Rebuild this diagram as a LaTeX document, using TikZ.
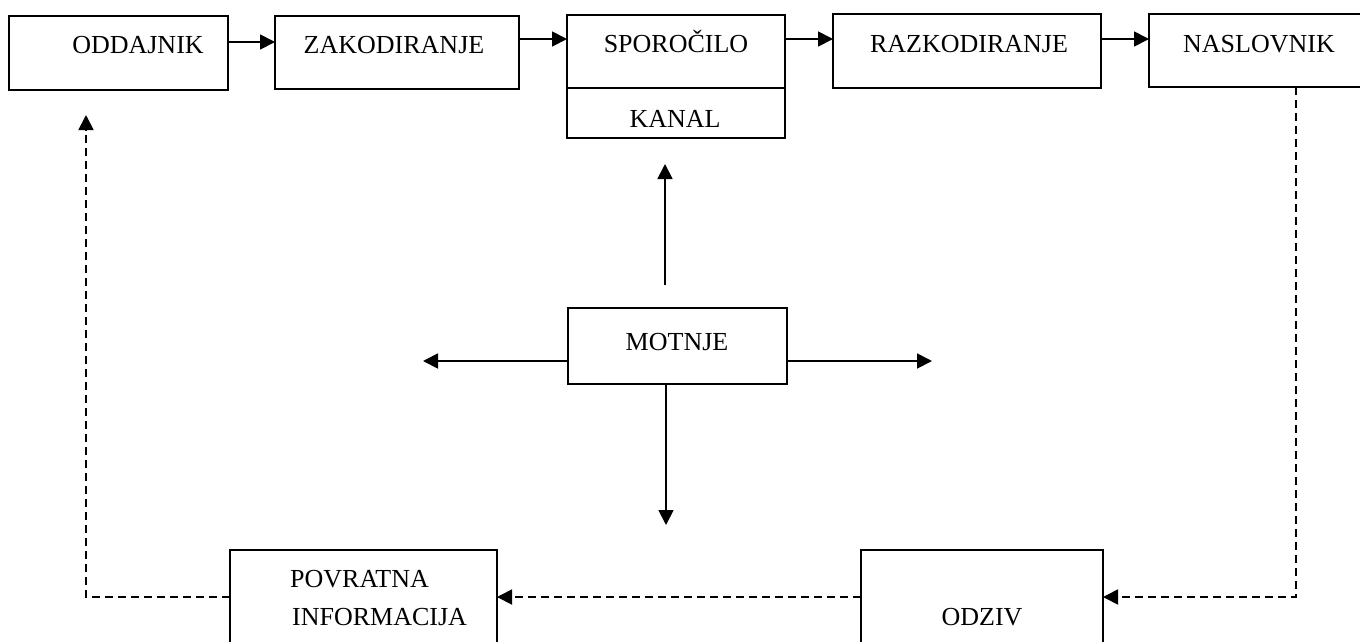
\documentclass[tikz,border=0pt]{standalone}
\usepackage{fontspec}
\setmainfont{Liberation Serif}
\usetikzlibrary{arrows.meta}
\begin{document}
\begin{tikzpicture}[x=1pt,y=-1pt,
  box/.style={draw,line width=1.8pt,inner sep=0pt,outer sep=0pt},
  lbl/.style={inner sep=0pt,anchor=base,font=\fontsize{26}{30}\selectfont},
  arr/.style={line width=1.8pt,-{Triangle[length=15pt,width=15pt]}},
  darr/.style={line width=1.8pt,dash pattern=on 8pt off 5pt,-{Triangle[length=15pt,width=15pt]}},
  dln/.style={line width=1.8pt,dash pattern=on 8pt off 5pt}]
\clip (0,0) rectangle (1360,641);
\fill[white] (0,0) rectangle (1360,641);
% boxes
\node[box,minimum width=219pt,minimum height=74pt] (odd) at (118.5,53) {};
\node[box,minimum width=244pt,minimum height=73pt] (zak) at (397,52.5) {};
\node[box,minimum width=218pt,minimum height=73pt] (spo) at (676,51.5) {};
\node[box,minimum width=218pt,minimum height=50pt] (kan) at (676,113) {};
\node[box,minimum width=268pt,minimum height=74pt] (raz) at (967,51) {};
\node[box,minimum width=231pt,minimum height=73pt] (nas) at (1264.5,50.5) {};
\node[box,minimum width=219pt,minimum height=76pt] (mot) at (677.5,346) {};
\node[box,minimum width=267pt,minimum height=110pt] (pov) at (363.5,605) {};
\node[box,minimum width=242pt,minimum height=110pt] (odz) at (982,605) {};
% texts
\node[lbl] (todd) at (138,53) {ODDAJNIK};
\node[lbl] (tzak) at (394,53) {ZAKODIRANJE};
\node[lbl] (tspo) at (676,52) {SPOROČILO};
\node[lbl] (tkan) at (675,127) {KANAL};
\node[lbl] (traz) at (969,52) {RAZKODIRANJE};
\node[lbl] (tnas) at (1259,52) {NASLOVNIK};
\node[lbl] (tmot) at (677,350) {MOTNJE};
\node[lbl,anchor=base west] (tpov1) at (290,587) {POVRATNA};
\node[lbl,anchor=base west] (tpov2) at (292,625) {INFORMACIJA};
\node[lbl] (todz) at (982,625) {ODZIV};
% helper coordinates
\coordinate (ya) at (0,42);
\coordinate (yb) at (0,39);
\coordinate (upS) at (665,285);
\coordinate (upE) at (665,164);
\coordinate (lfE) at (423,361);
\coordinate (rtE) at (932,361);
\coordinate (dnE) at (666,525);
\coordinate (c1) at (1296,597);
\coordinate (c2) at (86,597);
\coordinate (c3) at (86,115);
% top flow
\draw[arr] (odd.east |- ya) -- (zak.west |- ya);
\draw[arr] (zak.east |- yb) -- (spo.west |- yb);
\draw[arr] (spo.east |- yb) -- (raz.west |- yb);
\draw[arr] (raz.east |- yb) -- (nas.west |- yb);
% motnje arrows
\draw[arr] (upS) -- (upE);
\draw[arr] (mot.west |- lfE) -- (lfE);
\draw[arr] (mot.east |- rtE) -- (rtE);
\draw[arr] (mot.south -| dnE) -- (dnE);
% feedback
\draw[darr] (c1 |- nas.south) -- (c1) -- (odz.east |- c1);
\draw[darr] (odz.west |- c1) -- (pov.east |- c1);
\draw[darr] (pov.west |- c1) -- (c2) -- (c3);
\end{tikzpicture}
\end{document}
